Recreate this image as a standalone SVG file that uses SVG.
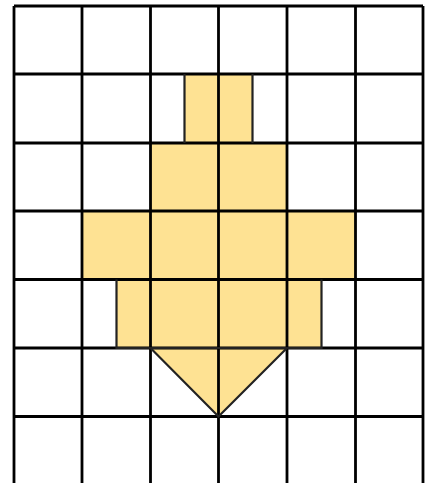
<svg xmlns="http://www.w3.org/2000/svg" width="430" height="483" viewBox="0 0 430 483">
<style>
.fill{fill:#FEE293;stroke:none}
.edge{fill:none;stroke:#222;stroke-width:2.2;stroke-linejoin:miter}
.grid{stroke:#000;stroke-width:2.8;fill:none}
</style>
<rect x="0" y="0" width="430" height="483" fill="#fff"/>
<g id="shape">
<rect class="fill" x="184.5" y="74" width="68" height="69"/>
<rect class="fill" x="150.5" y="143" width="136.5" height="68"/>
<rect class="fill" x="82" y="211" width="273.5" height="68.5"/>
<rect class="fill" x="116.5" y="279.5" width="205" height="68.5"/>
<polygon class="fill" points="150.5,348 287,348 218.5,416.5"/>
</g>
<g id="grid" class="grid">
<path d="M14,6V483M82,6V483M150.5,6V483M218.5,6V483M287,6V483M355.5,6V483M423,6V483"/>
<path d="M14,6H423M14,74H423M14,143H423M14,211H423M14,279.5H423M14,348H423M14,416.5H423"/>
</g>
<g id="outline" class="edge">
<path d="M184.5,74V143M252.5,74V143"/>
<path d="M116.5,279.5V348H321.5V279.5"/>
<path d="M150.5,348L218.5,416.5L287,348"/>
</g>
</svg>
